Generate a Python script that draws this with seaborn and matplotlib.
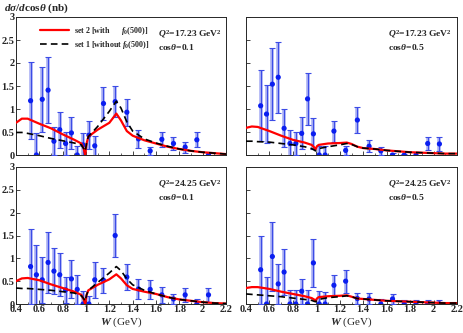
import numpy as np
import pandas as pd
import matplotlib
matplotlib.use("Agg")
import matplotlib.pyplot as plt
import seaborn as sns

sns.set_style("ticks")
plt.rcParams['font.family'] = ['Liberation Serif', 'DejaVu Serif']
plt.rcParams['font.weight'] = 'bold'
plt.rcParams['mathtext.fontset'] = 'custom'
plt.rcParams['mathtext.rm'] = 'Liberation Serif:bold'
plt.rcParams['mathtext.it'] = 'Liberation Serif:italic:bold'
plt.rcParams['mathtext.bf'] = 'Liberation Serif:bold'

# W bin centres (GeV)
w_bins = [0.525, 0.575, 0.625, 0.675, 0.725, 0.775, 0.825, 0.875, 0.925, 0.975,
          1.025, 1.075, 1.15, 1.25, 1.35, 1.45, 1.55, 1.65, 1.75, 1.85, 1.95, 2.05]

# data: (values, errors) per panel
tl_y = [1.18, 0.0, 1.21, 1.41, 0.30, 0.55, 0.25, 0.48, 0.0, 0.22, 0.43, 0.20,
        1.12, 1.16, 0.93, 0.35, 0.09, 0.34, 0.25, 0.17, 0.33, 0.0]
tl_e = [0.84, 0.47, 0.71, 0.72, 0.31, 0.39, 0.25, 0.35, 0.20, 0.25, 0.31, 0.22,
        0.35, 0.34, 0.29, 0.20, 0.08, 0.17, 0.15, 0.12, 0.16, 0.07]
tr_y = [1.07, 0.89, 1.54, 1.69, 0.58, 0.25, 0.25, 0.47, 1.22, 0.46, 0.0, 0.0,
        0.52, 0.10, 0.76, 0.19, 0.09, 0.0, 0.0, 0.0, 0.25, 0.24]
tr_e = [0.77, 0.63, 0.78, 0.77, 0.41, 0.29, 0.25, 0.35, 0.56, 0.34, 0.19, 0.19,
        0.23, 0.10, 0.28, 0.13, 0.08, 0.05, 0.03, 0.07, 0.15, 0.15]
bl_y = [0.82, 0.64, 0.53, 0.91, 0.72, 0.64, 0.31, 0.55, 0.32, 0.0, 0.0, 0.53,
        0.52, 1.50, 0.59, 0.33, 0.32, 0.20, 0.11, 0.20, 0.0, 0.20]
bl_e = [0.82, 0.66, 0.51, 0.66, 0.51, 0.47, 0.28, 0.42, 0.31, 0.29, 0.18, 0.39,
        0.27, 0.46, 0.29, 0.22, 0.21, 0.17, 0.10, 0.16, 0.11, 0.16]
br_y = [0.75, 0.0, 1.04, 0.44, 0.70, 0.0, 0.0, 0.28, 0.0, 0.90, 0.0, 0.0,
        0.41, 0.50, 0.12, 0.11, 0.0, 0.11, 0.0, 0.0, 0.0, 0.0]
br_e = [0.75, 0.60, 0.75, 0.44, 0.50, 0.31, 0.30, 0.27, 0.31, 0.52, 0.28, 0.26,
        0.23, 0.25, 0.12, 0.12, 0.10, 0.11, 0.09, 0.09, 0.09, 0.08]

# model curves
w_curve = [0.40, 0.45, 0.50, 0.60, 0.70, 0.80, 0.90, 0.96, 0.98, 0.993, 1.005, 1.02,
           1.10, 1.20, 1.26, 1.30, 1.35, 1.40, 1.50, 1.60, 1.70, 1.80, 1.90, 2.00, 2.10, 2.20]
tl_red = [0.70, 0.79, 0.79, 0.68, 0.58, 0.45, 0.33, 0.25, 0.14, 0.0, 0.25, 0.40,
          0.55, 0.70, 0.90, 0.75, 0.52, 0.42, 0.32, 0.25, 0.18, 0.13, 0.09, 0.06, 0.04, 0.02]
tl_blk = [0.49, 0.49, 0.47, 0.42, 0.36, 0.31, 0.26, 0.22, 0.14, 0.08, 0.25, 0.40,
          0.62, 0.95, 1.17, 1.02, 0.72, 0.52, 0.35, 0.26, 0.19, 0.13, 0.09, 0.06, 0.04, 0.02]
tr_red = [0.59, 0.62, 0.61, 0.52, 0.42, 0.33, 0.27, 0.22, 0.17, 0.12, 0.19, 0.22,
          0.25, 0.26, 0.27, 0.24, 0.18, 0.15, 0.13, 0.10, 0.08, 0.06, 0.05, 0.04, 0.03, 0.03]
tr_blk = [0.30, 0.30, 0.29, 0.28, 0.25, 0.22, 0.18, 0.14, 0.11, 0.09, 0.12, 0.14,
          0.18, 0.22, 0.25, 0.23, 0.18, 0.15, 0.13, 0.10, 0.08, 0.06, 0.05, 0.04, 0.03, 0.03]
bl_red = [0.50, 0.56, 0.57, 0.52, 0.43, 0.35, 0.27, 0.20, 0.10, 0.0, 0.20, 0.30,
          0.42, 0.54, 0.65, 0.56, 0.41, 0.33, 0.27, 0.22, 0.15, 0.10, 0.07, 0.04, 0.02, 0.01]
bl_blk = [0.35, 0.34, 0.34, 0.32, 0.30, 0.27, 0.24, 0.18, 0.12, 0.06, 0.20, 0.30,
          0.47, 0.68, 0.82, 0.73, 0.55, 0.42, 0.30, 0.22, 0.15, 0.10, 0.07, 0.04, 0.02, 0.01]
br_red = [0.35, 0.37, 0.37, 0.33, 0.27, 0.22, 0.17, 0.13, 0.10, 0.07, 0.12, 0.15,
          0.17, 0.18, 0.19, 0.16, 0.12, 0.11, 0.09, 0.07, 0.06, 0.05, 0.04, 0.03, 0.02, 0.02]
br_blk = [0.22, 0.21, 0.20, 0.18, 0.16, 0.13, 0.10, 0.08, 0.06, 0.05, 0.08, 0.10,
          0.14, 0.16, 0.18, 0.16, 0.12, 0.11, 0.09, 0.07, 0.06, 0.05, 0.04, 0.03, 0.02, 0.02]

panels = [
    (tl_y, tl_e, tl_red, tl_blk, "17.23", "0.1"),
    (tr_y, tr_e, tr_red, tr_blk, "17.23", "0.5"),
    (bl_y, bl_e, bl_red, bl_blk, "24.25", "0.1"),
    (br_y, br_e, br_red, br_blk, "24.25", "0.5"),
]

fig = plt.figure(figsize=(4.63, 3.33), dpi=100)
W, H = 463, 333
boxes = [(16, 17, 226, 155), (246, 17, 457, 155), (16, 167, 226, 304), (246, 167, 457, 304)]

for i, ((yv, ye, red, blk, q2, cth), (x0, y0, x1, y1)) in enumerate(zip(panels, boxes)):
    ax = fig.add_axes([x0 / W, 1 - y1 / H, (x1 - x0) / W, (y1 - y0) / H])
    ax.errorbar(w_bins, yv, yerr=ye, fmt='none', ecolor='#aab0f4', elinewidth=2.6, zorder=2)
    ax.errorbar(w_bins, yv, yerr=ye, fmt='none', ecolor='#3c4ce6', elinewidth=0.8,
                capsize=2, capthick=0.8, zorder=3)
    sns.scatterplot(x=w_bins, y=yv, color='#0a1ef0', s=14, edgecolor='none', zorder=4, ax=ax)
    sns.lineplot(x=w_curve, y=red, color='red', lw=1.6, zorder=5, ax=ax,
                 label=r"set 2 [with      $f_0$(500)]")
    sns.lineplot(x=w_curve, y=blk, color='black', lw=1.2, linestyle=(0, (4, 2.5)), zorder=5, ax=ax,
                 label=r"set 1 [without $f_0$(500)]")
    ax.set_xlim(0.4, 2.2)
    ax.set_ylim(0, 3)
    ax.set_xticks(np.arange(0.4, 2.21, 0.2))
    ax.set_xticks(np.arange(0.4, 2.21, 0.1), minor=True)
    ax.set_yticks(np.arange(0, 3.01, 0.5))
    ax.set_xticklabels(['0.4', '0.6', '0.8', '1', '1.2', '1.4', '1.6', '1.8', '2', '2.2'])
    ax.set_yticklabels(['0', '0.5', '1', '1.5', '2', '2.5', '3'])
    ax.tick_params(direction='in', length=3, width=0.6, labelsize=7.5, pad=1)
    ax.tick_params(which='minor', direction='in', length=1.5, width=0.5)
    for s in ax.spines.values():
        s.set_linewidth(0.7)
    if i < 2:
        ax.tick_params(labelbottom=False)
    if i % 2 == 1:
        ax.tick_params(labelleft=False)
    if i == 0:
        ax.legend(loc='upper left', frameon=False, fontsize=5.8, handlelength=3.6,
                  handletextpad=0.6, borderaxespad=0.2, labelspacing=0.3,
                  bbox_to_anchor=(0.09, 0.98))
    else:
        ax.get_legend().remove()
    ax.text(0.675, 0.86, r"$Q^2$=" + q2 + r" GeV$^2$", transform=ax.transAxes, fontsize=6.8)
    ax.text(0.675, 0.76, r"cos$\theta$=" + cth, transform=ax.transAxes, fontsize=6.8)
    if i >= 2:
        ax.set_xlabel(r"$W$ (GeV)", fontsize=8, labelpad=1)

fig.text(4 / W, 1 - 8 / H, r"$d\sigma/d$cos$\theta$ (nb)", fontsize=8, va='center')

plt.savefig("out.png", dpi=100)
